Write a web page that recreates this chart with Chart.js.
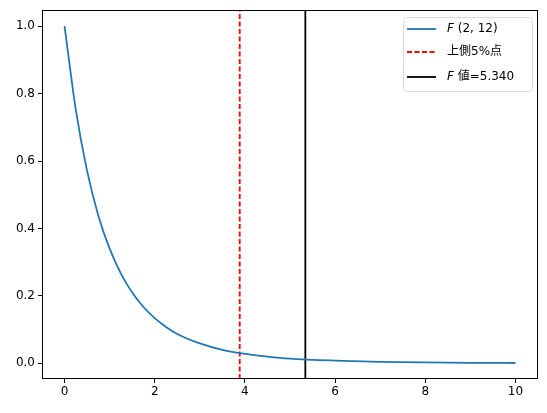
<!DOCTYPE html>
<html>
<head>
<meta charset="utf-8">
<script src="https://cdn.jsdelivr.net/npm/chart.js@4/dist/chart.umd.min.js"></script>
<style>
  html, body { margin: 0; padding: 0; background: #fff; }
  #wrap { width: 547px; height: 413px; }
</style>
</head>
<body>
<div id="wrap"><canvas id="fChart" width="547" height="413"></canvas></div>
<script>
// F(2,12) の密度曲線
const xs = [0, 0.25, 0.5, 0.75, 1, 1.25, 1.5, 1.75, 2, 2.25, 2.5, 3, 3.5, 4, 4.5, 5, 6, 7, 8, 9, 10];
const density = [1.0, 0.752, 0.571, 0.438, 0.340, 0.266, 0.210, 0.167, 0.134, 0.108, 0.087, 0.059, 0.040, 0.028, 0.020, 0.014, 0.008, 0.0045, 0.0027, 0.0016, 0.001];
const critValue = 3.885;   // 上側5%点
const fValue = 5.340;      // F 値
const xTicks = [0, 2, 4, 6, 8, 10];
const yTicks = [0.0, 0.2, 0.4, 0.6, 0.8, 1.0];

const xMin = -0.5, xMax = 10.5;
const yMin = -0.0465, yMax = 1.0474;

const BLUE = '#1f77b4';
const FONT = '"DejaVu Sans", "Noto Sans CJK JP", sans-serif';

// 軸の枠（四辺）と凡例を描く
const framePlugin = {
  id: 'frame',
  afterDraw(chart) {
    const { ctx, chartArea: a } = chart;
    ctx.save();
    ctx.strokeStyle = '#000';
    ctx.lineWidth = 1;
    ctx.strokeRect(Math.round(a.left) + 0.5, Math.round(a.top) + 0.5,
      Math.round(a.right - a.left) - 1, Math.round(a.bottom - a.top) - 1);

    // 凡例
    const bx = 403, by = 17, bw = 129, bh = 74;
    ctx.fillStyle = 'rgba(255,255,255,0.8)';
    ctx.strokeStyle = '#d9d9d9';
    ctx.beginPath();
    ctx.roundRect(bx + 0.5, by + 0.5, bw, bh, 3);
    ctx.fill();
    ctx.stroke();

    const rows = [
      { color: BLUE, dash: [], y: 29 },
      { color: '#ff0000', dash: [5, 2.5], y: 52 },
      { color: '#000', dash: [], y: 77 }
    ];
    rows.forEach(r => {
      ctx.strokeStyle = r.color;
      ctx.lineWidth = 1.8;
      ctx.setLineDash(r.dash);
      ctx.beginPath();
      ctx.moveTo(407, r.y);
      ctx.lineTo(436, r.y);
      ctx.stroke();
    });
    ctx.setLineDash([]);

    ctx.fillStyle = '#000';
    ctx.textBaseline = 'middle';
    const tx = 447;
    // F (2, 12)
    ctx.font = 'italic 12px ' + FONT;
    ctx.fillText('F', tx, 29);
    let w = ctx.measureText('F ').width;
    ctx.font = '12px ' + FONT;
    ctx.fillText('(2, 12)', tx + w, 29);
    // 上側5%点
    ctx.fillText('上側5%点', tx, 52);
    // F 値=5.340
    ctx.font = 'italic 12px ' + FONT;
    ctx.fillText('F', tx, 77);
    w = ctx.measureText('F ').width;
    ctx.font = '12px ' + FONT;
    ctx.fillText('値=5.340', tx + w, 77);
    ctx.restore();
  }
};

new Chart(document.getElementById('fChart'), {
  type: 'line',
  data: {
    datasets: [
      {
        label: 'F (2, 12)',
        data: xs.map((x, i) => ({ x: x, y: density[i] })),
        borderColor: BLUE,
        borderWidth: 1.8,
        pointRadius: 0,
        cubicInterpolationMode: 'monotone'
      },
      {
        label: '上側5%点',
        data: [{ x: critValue, y: yMin }, { x: critValue, y: yMax }],
        borderColor: '#ff0000',
        borderWidth: 1.8,
        borderDash: [5, 2.5],
        pointRadius: 0
      },
      {
        label: 'F 値=5.340',
        data: [{ x: fValue, y: yMin }, { x: fValue, y: yMax }],
        borderColor: '#000',
        borderWidth: 1.8,
        pointRadius: 0
      }
    ]
  },
  options: {
    responsive: false,
    animation: false,
    layout: { padding: { top: 10, right: 9, left: 0, bottom: 0 } },
    plugins: {
      legend: { display: false },
      tooltip: { enabled: false }
    },
    scales: {
      x: {
        type: 'linear',
        min: xMin,
        max: xMax,
        afterFit(scale) { scale.height = 34; },
        afterBuildTicks(scale) { scale.ticks = xTicks.map(v => ({ value: v })); },
        grid: { drawOnChartArea: false, drawTicks: true, tickLength: 4, color: '#000' },
        border: { display: false },
        ticks: { color: '#000', font: { family: FONT, size: 12 }, padding: 2, maxRotation: 0,
          callback: v => String(v) }
      },
      y: {
        min: yMin,
        max: yMax,
        afterFit(scale) { scale.width = 42; },
        afterBuildTicks(scale) { scale.ticks = yTicks.map(v => ({ value: v })); },
        grid: { drawOnChartArea: false, drawTicks: true, tickLength: 4, color: '#000' },
        border: { display: false },
        ticks: { color: '#000', font: { family: FONT, size: 12 }, padding: 3,
          callback: v => v.toFixed(1) }
      }
    }
  },
  plugins: [framePlugin]
});
</script>
</body>
</html>
